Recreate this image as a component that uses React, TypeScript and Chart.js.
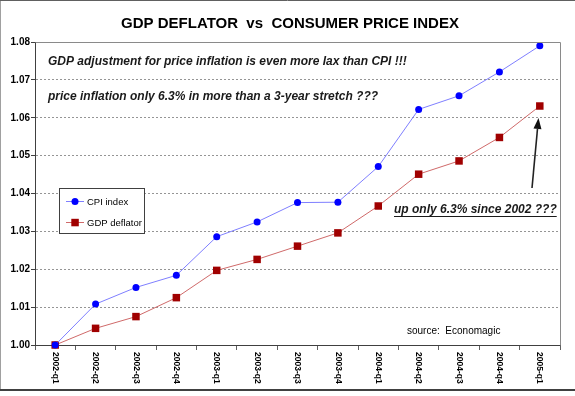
import React, { useEffect, useRef } from "react";
import { Chart, registerables } from "chart.js";

Chart.register(...registerables);

const categories = [
  "2002-q1", "2002-q2", "2002-q3", "2002-q4",
  "2003-q1", "2003-q2", "2003-q3", "2003-q4",
  "2004-q1", "2004-q2", "2004-q3", "2004-q4",
  "2005-q1",
];
const cpiValues = [
  1.0, 1.0108, 1.0152, 1.0184,
  1.0286, 1.0325, 1.0376, 1.0377,
  1.0471, 1.0622, 1.0658, 1.0721,
  1.079,
];
const gdpValues = [
  1.0, 1.0044, 1.0075, 1.0125,
  1.0197, 1.0226, 1.0261, 1.0296,
  1.0367, 1.0451, 1.0486, 1.0548,
  1.0631,
];
const seriesNames = ["CPI index", "GDP deflator"];
const titleText = "GDP DEFLATOR  vs  CONSUMER PRICE INDEX";
const note1 = "GDP adjustment for price inflation is even more lax than CPI !!!";
const note2 = "price inflation only 6.3% in more than a 3-year stretch ???";
const note3 = "up only 6.3% since 2002 ???";
const sourceText = "source:  Economagic";

const FONT = '"Liberation Sans", Arial, sans-serif';
const CPI_LINE = "#7f7fff";
const CPI_POINT = "#0000ff";
const GDP_LINE = "#d06a6a";
const GDP_POINT = "#a00000";

const decorPlugin = {
  id: "decor",
  beforeDraw(chart: any) {
    const { ctx, width, height } = chart;
    ctx.save();
    ctx.fillStyle = "#ffffff";
    ctx.fillRect(0, 0, width, height);
    ctx.restore();
  },
  afterDraw(chart: any) {
    const { ctx, chartArea } = chart;
    const xScale = chart.scales.x;
    ctx.save();

    // plot area top / right border
    ctx.strokeStyle = "#8a8a8a";
    ctx.lineWidth = 1;
    ctx.beginPath();
    ctx.moveTo(Math.round(chartArea.left) + 0.5, Math.round(chartArea.top) + 0.5);
    ctx.lineTo(Math.round(chartArea.right) + 0.5, Math.round(chartArea.top) + 0.5);
    ctx.lineTo(Math.round(chartArea.right) + 0.5, Math.round(chartArea.bottom) + 0.5);
    ctx.stroke();

    // title
    ctx.fillStyle = "#000000";
    ctx.font = `bold 15px ${FONT}`;
    ctx.textAlign = "center";
    ctx.textBaseline = "middle";
    ctx.fillText(titleText, 290, 24);

    // notes
    ctx.fillStyle = "#1a1a1a";
    ctx.font = `italic bold 12px ${FONT}`;
    ctx.textAlign = "left";
    ctx.fillText(note1, 48, 62);
    ctx.fillText(note2, 48, 97);
    ctx.fillText(note3, 394, 210);
    const w3 = ctx.measureText(note3).width;
    ctx.strokeStyle = "#1a1a1a";
    ctx.beginPath();
    ctx.moveTo(394, 216.5);
    ctx.lineTo(394 + w3, 216.5);
    ctx.stroke();

    // arrow
    const ax0 = 532, ay0 = 188, ax1 = 538.5, ay1 = 118;
    const ang = Math.atan2(ay1 - ay0, ax1 - ax0);
    const hl = 11, hw = 4;
    const bx = ax1 - hl * Math.cos(ang), by = ay1 - hl * Math.sin(ang);
    ctx.strokeStyle = "#222222";
    ctx.lineWidth = 1.6;
    ctx.beginPath();
    ctx.moveTo(ax0, ay0);
    ctx.lineTo(bx, by);
    ctx.stroke();
    ctx.fillStyle = "#111111";
    ctx.beginPath();
    ctx.moveTo(ax1, ay1);
    ctx.lineTo(bx + hw * Math.sin(ang), by - hw * Math.cos(ang));
    ctx.lineTo(bx - hw * Math.sin(ang), by + hw * Math.cos(ang));
    ctx.closePath();
    ctx.fill();

    // legend
    ctx.lineWidth = 1;
    ctx.fillStyle = "#ffffff";
    ctx.fillRect(59.5, 188.5, 85, 45);
    ctx.strokeStyle = "#404040";
    ctx.strokeRect(59.5, 188.5, 85, 45);
    const items = [
      { y: 201, line: CPI_LINE, pt: CPI_POINT, shape: "circle" },
      { y: 222, line: GDP_LINE, pt: GDP_POINT, shape: "rect" },
    ];
    items.forEach((it, i) => {
      ctx.strokeStyle = it.line;
      ctx.lineWidth = 1;
      ctx.beginPath();
      ctx.moveTo(66, it.y + 0.5);
      ctx.lineTo(84, it.y + 0.5);
      ctx.stroke();
      ctx.fillStyle = it.pt;
      ctx.beginPath();
      if (it.shape === "circle") ctx.arc(75, it.y + 0.5, 3.5, 0, Math.PI * 2);
      else ctx.rect(71.3, it.y - 3.2, 7.5, 7.5);
      ctx.fill();
      ctx.fillStyle = "#000000";
      ctx.font = `9.5px ${FONT}`;
      ctx.textAlign = "left";
      ctx.textBaseline = "middle";
      ctx.fillText(seriesNames[i], 87, it.y + 1);
    });

    // source
    ctx.font = `10px ${FONT}`;
    ctx.fillStyle = "#000000";
    ctx.textAlign = "left";
    ctx.fillText(sourceText, 407, 331);

    // x labels rotated
    ctx.font = `bold 8.5px ${FONT}`;
    ctx.fillStyle = "#000000";
    categories.forEach((c, i) => {
      const x = xScale.getPixelForValue(i);
      ctx.save();
      ctx.translate(x, 352);
      ctx.rotate(Math.PI / 2);
      ctx.textAlign = "left";
      ctx.textBaseline = "middle";
      ctx.fillText(c, 0, 0);
      ctx.restore();
    });

    // outer frame
    ctx.lineWidth = 1;
    ctx.strokeStyle = "#a0a0a0";
    ctx.beginPath();
    ctx.moveTo(0.5, 389);
    ctx.lineTo(0.5, 1);
    ctx.stroke();
    ctx.strokeStyle = "#606060";
    ctx.beginPath();
    ctx.moveTo(0, 0.5);
    ctx.lineTo(575, 0.5);
    ctx.stroke();
    ctx.strokeStyle = "#404040";
    ctx.lineWidth = 2;
    ctx.beginPath();
    ctx.moveTo(0, 390);
    ctx.lineTo(575, 390);
    ctx.stroke();

    ctx.restore();
  },
};

export default function App() {
  const ref = useRef<HTMLCanvasElement>(null);
  useEffect(() => {
    if (!ref.current) return;
    const chart = new Chart(ref.current, {
      type: "line",
      data: {
        labels: categories,
        datasets: [
          {
            label: seriesNames[0],
            data: cpiValues,
            borderColor: CPI_LINE,
            borderWidth: 1,
            pointStyle: "circle",
            pointRadius: 3.5,
            pointBackgroundColor: CPI_POINT,
            pointBorderColor: CPI_POINT,
            pointBorderWidth: 0,
            tension: 0,
            clip: false,
          },
          {
            label: seriesNames[1],
            data: gdpValues,
            borderColor: GDP_LINE,
            borderWidth: 1,
            pointStyle: "rect",
            pointRadius: 5.3,
            pointBackgroundColor: GDP_POINT,
            pointBorderColor: GDP_POINT,
            pointBorderWidth: 0,
            tension: 0,
            clip: false,
          },
        ],
      },
      options: {
        responsive: false,
        animation: false,
        events: [],
        layout: { padding: { top: 42, right: 15, left: 0, bottom: 0 } },
        plugins: {
          legend: { display: false },
          title: { display: false },
          tooltip: { enabled: false },
        },
        scales: {
          x: {
            type: "category",
            offset: true,
            grid: {
              offset: true,
              drawOnChartArea: false,
              drawTicks: true,
              tickLength: 5,
              tickColor: "#606060",
            },
            border: { color: "#404040", width: 1 },
            ticks: { display: false },
            afterFit: (s: any) => {
              s.height = 51;
            },
          },
          y: {
            min: 1.0,
            max: 1.08,
            ticks: {
              stepSize: 0.01,
              callback: (v: any) => Number(v).toFixed(2),
              font: { family: FONT, size: 10, weight: "bold" },
              color: "#000000",
              padding: 1,
            },
            grid: {
              color: "#959595",
              tickColor: "#404040",
              tickLength: 4,
            },
            border: { color: "#404040", width: 1, dash: [2, 2] },
            afterFit: (s: any) => {
              s.width = 35;
            },
          },
        },
      },
      plugins: [decorPlugin],
    });
    return () => {
      chart.destroy();
    };
  }, []);
  return (
    <div style={{ position: "absolute", left: 0, top: 0, width: 575, height: 396 }}>
      <canvas ref={ref} width={575} height={396} style={{ width: 575, height: 396 }} />
    </div>
  );
}
